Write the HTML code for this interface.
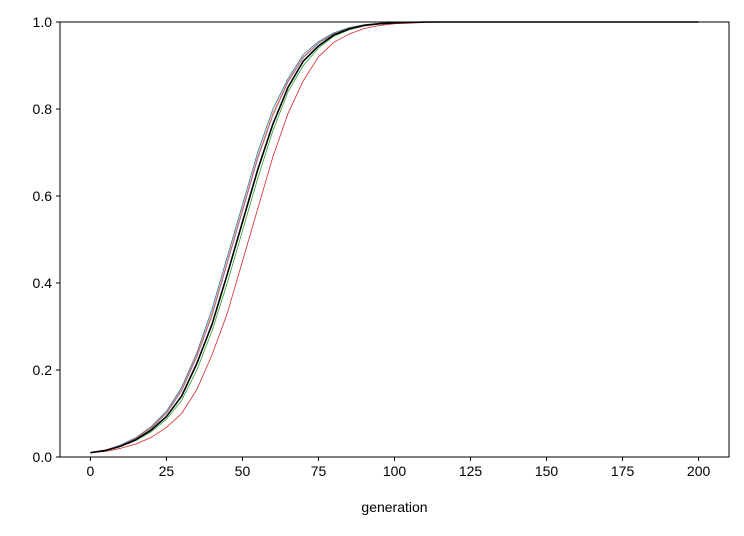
<!DOCTYPE html>
<html><head><meta charset="utf-8"><style>
body{margin:0;background:#fff;}
svg text{font-family:"Liberation Sans","DejaVu Sans",sans-serif;font-size:14px;fill:#000;}
</style></head><body>
<svg id="chart" width="744" height="531" xmlns="http://www.w3.org/2000/svg"></svg>
<script>
const gens = [0,5,10,15,20,25,30,35,40,45,50,55,60,65,70,75,80,85,90,95,100,110,120,200];
const blueVals   = [0.01,0.016,0.028,0.045,0.07,0.105,0.16,0.24,0.34,0.46,0.58,0.70,0.80,0.87,0.925,0.955,0.975,0.987,0.994,0.997,0.999,1,1,1];
const orangeVals = [0.01,0.016,0.027,0.044,0.068,0.102,0.155,0.235,0.33,0.45,0.57,0.69,0.79,0.865,0.92,0.952,0.973,0.986,0.993,0.997,0.999,1,1,1];
const purpleVals = [0.01,0.016,0.027,0.043,0.066,0.10,0.152,0.23,0.325,0.445,0.565,0.685,0.785,0.862,0.918,0.951,0.972,0.986,0.993,0.997,0.999,1,1,1];
const blackVals  = [0.01,0.015,0.025,0.04,0.062,0.093,0.14,0.215,0.305,0.42,0.54,0.66,0.765,0.85,0.91,0.945,0.97,0.984,0.992,0.996,0.998,1,1,1];
const greenVals  = [0.01,0.015,0.024,0.038,0.058,0.087,0.13,0.20,0.29,0.40,0.52,0.64,0.75,0.84,0.90,0.94,0.967,0.982,0.991,0.995,0.998,1,1,1];
const redVals    = [0.01,0.013,0.02,0.03,0.045,0.068,0.10,0.155,0.235,0.33,0.45,0.57,0.69,0.79,0.865,0.92,0.953,0.972,0.985,0.992,0.996,0.999,1,1];
const xTicks = [0,25,50,75,100,125,150,175,200];
const yTicks = [0.0,0.2,0.4,0.6,0.8,1.0];
const L=60,R=729,T=22,B=457,xmin=-10,xmax=210;
const sx=v=>L+(v-xmin)/(xmax-xmin)*(R-L);
const sy=v=>B-v*(B-T);
const svg=document.getElementById('chart');
const NS='http://www.w3.org/2000/svg';
function mk(tag,attrs){const e=document.createElementNS(NS,tag);for(const k in attrs)e.setAttribute(k,attrs[k]);svg.appendChild(e);return e;}
const series=[[blueVals,'#1f77b4',0.8,'blue'],[orangeVals,'#ff7f0e',0.8,'orange'],[purpleVals,'#9467bd',0.8,'purple'],[greenVals,'#2ca02c',0.8,'green'],[redVals,'#d62728',0.8,'red'],[blackVals,'#000',1.6,'black']];
for(const [vals,c,w,n] of series){
  const p=mk('polyline',{points:gens.map((g,i)=>sx(g)+','+sy(vals[i])).join(' '),fill:'none',stroke:c,'stroke-width':w,'stroke-linejoin':'round'});
  
  
}
const frame=mk('rect',{x:L,y:T,width:R-L,height:B-T,fill:'none',stroke:'#000','stroke-width':1});


for(const t of xTicks){
  const x=sx(t);
  const tk=mk('line',{x1:x,x2:x,y1:B,y2:B+4,stroke:'#000'});
  
  
  const tx=mk('text',{x:x,y:B+19,'text-anchor':'middle'});tx.textContent=t;
  
  
}
for(const t of yTicks){
  const y=sy(t);
  const tk=mk('line',{x1:L-4,x2:L,y1:y,y2:y,stroke:'#000'});
  
  
  const tx=mk('text',{x:L-8,y:y+5,'text-anchor':'end'});tx.textContent=t.toFixed(1);
  
  
}
const xl=mk('text',{x:(L+R)/2,y:512,'text-anchor':'middle'});xl.textContent='generation';


</script>
</body></html>
